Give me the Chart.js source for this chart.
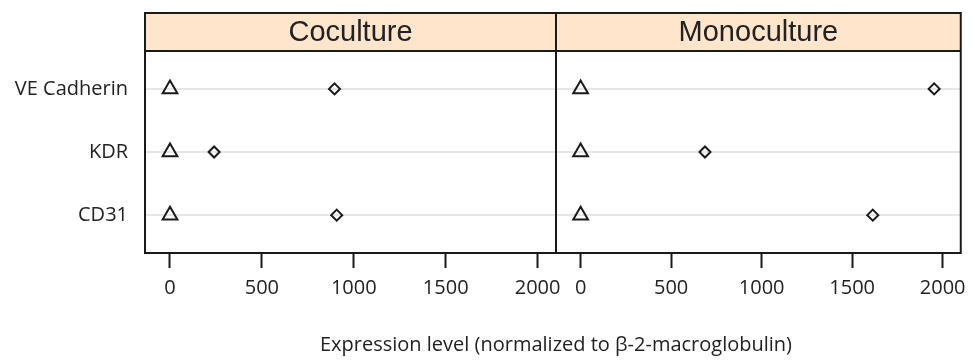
<!DOCTYPE html>
<html>
<head>
<meta charset="utf-8">
<script src="https://cdn.jsdelivr.net/npm/chart.js@4/dist/chart.umd.min.js"></script>
<style>
  body { margin: 0; background: #fff; }
  #wrap { position: relative; width: 974px; height: 363px; }
  #wrap canvas { position: absolute; left: 0; top: 0; }
</style>
</head>
<body>
<div id="wrap">
  <canvas id="cocultureChart" width="974" height="363"></canvas>
  <canvas id="monocultureChart" width="974" height="363"></canvas>
</div>
<script>
// Data (bottom to top)
const categories = ['CD31', 'KDR', 'VE Cadherin'];
const panels = ['Coculture', 'Monoculture'];
const cocultureControl = [0, 0, 0];
const cocultureLevel = [907, 240, 895];
const monocultureControl = [0, 0, 0];
const monocultureLevel = [1614, 687, 1953];
const xTicks = [0, 500, 1000, 1500, 2000];
const xTitle = 'Expression level (normalized to \u03b2-2-macroglobulin)';

const ink = '#1a1a1a';
const stripTop = 13;
const panelLeft = 145;
const panelSplit = 556;
const panelRight = 967;

function points(values) {
    return values.map((v, i) => ({ x: v, y: i + 1 }));
}

function markerSet(values, style, radius) {
    return {
        data: points(values),
        pointStyle: style,
        pointRadius: radius,
        pointBorderWidth: 2,
        pointBorderColor: ink,
        pointBackgroundColor: 'rgba(0,0,0,0)',
        showLine: false
    };
}

// strip on top, frame round the panel, optional x title
const panelFrame = {
    id: 'panelFrame',
    afterDraw(chart, args, opts) {
        const { ctx, chartArea: a } = chart;
        ctx.save();
        ctx.fillStyle = '#ffe5cc';
        ctx.fillRect(a.left, stripTop, a.right - a.left, a.top - stripTop);
        ctx.strokeStyle = ink;
        ctx.lineWidth = 2;
        ctx.strokeRect(a.left, stripTop, a.right - a.left, a.bottom - stripTop);
        ctx.beginPath();
        ctx.moveTo(a.left, a.top);
        ctx.lineTo(a.right, a.top);
        ctx.stroke();
        ctx.fillStyle = '#222';
        ctx.font = '29px "Liberation Sans", Arial, sans-serif';
        ctx.textAlign = 'center';
        ctx.textBaseline = 'middle';
        ctx.fillText(opts.name, (a.left + a.right) / 2, (stripTop + a.top) / 2 + 1);
        if (opts.title) {
            ctx.font = '20px "Open Sans", sans-serif';
            ctx.fillText(opts.title, (panelLeft + panelRight) / 2, 345);
        }
        ctx.restore();
    }
};

function panelChart(id, name, control, level, showY, padding, title) {
    return new Chart(document.getElementById(id).getContext('2d'), {
        type: 'scatter',
        data: {
            datasets: [
                markerSet(control, 'triangle', 8.5),
                markerSet(level, 'rectRot', 5.5)
            ]
        },
        options: {
            responsive: false,
            animation: false,
            layout: { padding: padding },
            plugins: {
                legend: { display: false },
                tooltip: { enabled: false },
                panelFrame: { name: name, title: title }
            },
            scales: {
                x: {
                    type: 'linear',
                    position: 'bottom',
                    min: -136,
                    max: 2100,
                    border: { display: false },
                    grid: {
                        drawOnChartArea: false,
                        drawTicks: true,
                        tickLength: 15,
                        tickWidth: 2,
                        tickColor: ink
                    },
                    ticks: {
                        font: { family: 'Open Sans', size: 20 },
                        color: '#222',
                        padding: 8,
                        maxRotation: 0,
                        callback: value => String(value)
                    },
                    afterBuildTicks: scale => { scale.ticks = xTicks.map(v => ({ value: v })); },
                    afterFit: scale => { scale.height = 110; }
                },
                y: {
                    type: 'linear',
                    position: 'left',
                    min: 0.4,
                    max: 3.6,
                    border: { display: false },
                    grid: { color: '#e6e6e6', lineWidth: 2, drawTicks: false },
                    ticks: {
                        display: showY,
                        font: { family: 'Open Sans', size: 20 },
                        color: '#222',
                        padding: 17,
                        callback: value => categories[value - 1]
                    },
                    afterBuildTicks: scale => { scale.ticks = categories.map((c, i) => ({ value: i + 1 })); },
                    afterFit: scale => { scale.width = showY ? panelLeft : 0; }
                }
            }
        },
        plugins: [panelFrame]
    });
}

panelChart('cocultureChart', panels[0], cocultureControl, cocultureLevel, true,
    { top: 51, left: 0, right: 974 - panelSplit, bottom: 0 }, xTitle);
panelChart('monocultureChart', panels[1], monocultureControl, monocultureLevel, false,
    { top: 51, left: panelSplit, right: 974 - panelRight, bottom: 0 }, null);
</script>
</body>
</html>
